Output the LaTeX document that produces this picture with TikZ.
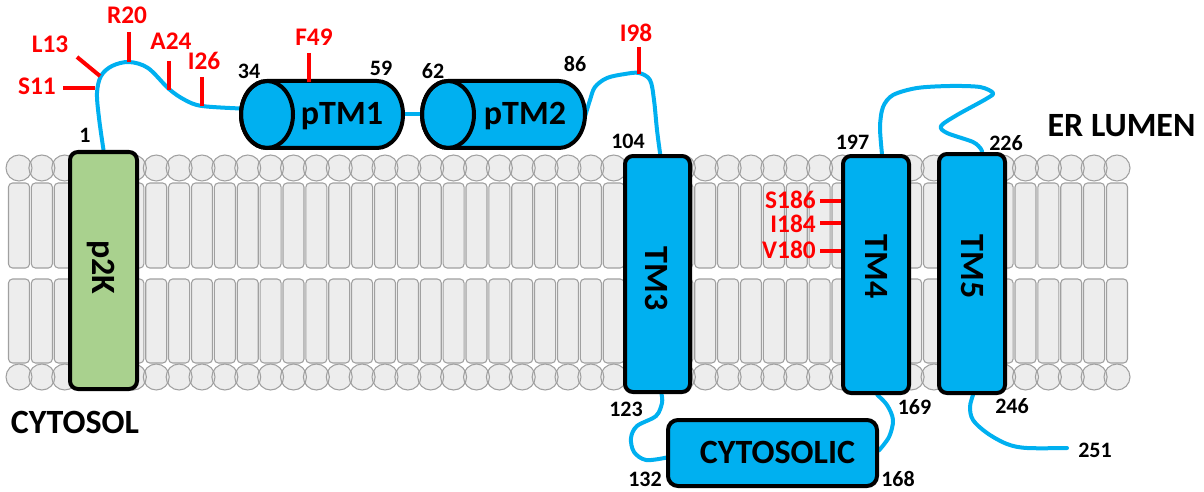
\documentclass[tikz,border=0pt]{standalone}
\usepackage{fontspec}
\setmainfont{Carlito}
\pgfdeclarelayer{bg}
\pgfdeclarelayer{mid}
\pgfsetlayers{bg,mid,main}
\definecolor{cblue}{HTML}{00B0F0}
\definecolor{cgreen}{HTML}{A9D18E}
\definecolor{lipfill}{HTML}{EDEDED}
\definecolor{lipline}{HTML}{A0A0A0}
\definecolor{cred}{HTML}{FF0000}
\begin{document}
\begin{tikzpicture}[x=0.75pt,y=-0.75pt,
  box/.style={draw=black, line width=3pt, rounded corners=6pt, inner sep=0pt},
  tmbox/.style={box, fill=cblue},
  hidden/.style={inner sep=0pt, outer sep=0pt},
  cyl/.style={draw=black, fill=cblue, line width=3pt, line join=round},
  big/.style={font=\bfseries\fontsize{25.5}{25.5}\selectfont, inner sep=0pt, text height=16.4pt, text depth=0pt},
  num/.style={font=\bfseries\fontsize{16.5}{16.5}\selectfont, inner sep=0pt, text height=10.4pt, text depth=0pt},
  mut/.style={font=\bfseries\fontsize{19}{19}\selectfont, text=cred, inner sep=0pt, text height=12pt, text depth=0pt},
  tick/.style={draw=cred, line width=3pt},
  chain/.style={draw=cblue, line width=3pt, line cap=round, line join=round},
  lipid/.style={draw=lipline, line width=0.8pt, fill=lipfill}
]
\useasboundingbox (0,0) rectangle (1204,492);

% ---------- membrane ----------
\begin{pgfonlayer}{bg}
\foreach \i in {0,...,48}{
  \pgfmathsetmacro\xx{19+\i*22.875}
  \draw[lipid, rounded corners=3pt] (\xx-10.5,183) rectangle (\xx+10.5,268);
  \draw[lipid, rounded corners=3pt] (\xx-10.5,279) rectangle (\xx+10.5,363);
  \fill[lipfill] (\xx,168) circle[radius=9.75pt];
  \fill[lipfill] (\xx,377) circle[radius=9.75pt];
}
\foreach \i in {0,...,48}{
  \pgfmathsetmacro\xx{19+\i*22.875}
  \draw[lipline, line width=0.8pt] (\xx,168) circle[radius=9.75pt];
  \draw[lipline, line width=0.8pt] (\xx,377) circle[radius=9.75pt];
}
\end{pgfonlayer}

% ---------- boxes ----------
\node[box, fill=cgreen, minimum width=50.25pt, minimum height=177.75pt] (p2k) at (103.5,270.5) {};
\node[tmbox, minimum width=48.75pt, minimum height=177pt] (tm3) at (657.5,274) {};
\node[tmbox, minimum width=49.5pt, minimum height=177.75pt] (tm4) at (876,274.5) {};
\node[tmbox, minimum width=49.5pt, minimum height=179.25pt] (tm5) at (972,273.5) {};
\node[tmbox, rounded corners=7.5pt, minimum width=156.75pt, minimum height=49.5pt] (cyto) at (772.5,453) {};

% cylinders
\node[hidden, minimum width=121.5pt, minimum height=50.25pt] (ptm1) at (322,114.5) {};
\node[hidden, minimum width=122.25pt, minimum height=50.25pt] (ptm2) at (503.5,114.5) {};
\foreach \c in {ptm1,ptm2}{
  \filldraw[cyl] ([xshift=19.5pt]\c.north west) -- ([xshift=-19.5pt]\c.north east)
    arc[start angle=90, end angle=-90, x radius=19.5pt, y radius=25.125pt]
    -- ([xshift=19.5pt]\c.south west)
    arc[start angle=270, end angle=90, x radius=19.5pt, y radius=25.125pt] -- cycle;
  \draw[draw=black, line width=3pt] ([xshift=19.5pt]\c.west) ellipse[x radius=19.5pt, y radius=25.125pt];
}

% ---------- box texts ----------
\node[big, rotate=-90] (tp2k) at (103.5,267.5) {p2K};
\node[big, rotate=-90] (ttm3) at (656,278.5) {TM3};
\node[big, rotate=-90] (ttm4) at (876,266.5) {TM4};
\node[big, rotate=-90] (ttm5) at (972,266.5) {TM5};
\node[big] (tcyto) at (777.5,452.5) {CYTOSOLIC};
\node[big] (tptm1) at (342,114) {pTM1};
\node[big] (tptm2) at (525,114) {pTM2};
\node[big] (ter) at (1121.5,126) {ER LUMEN};
\node[big] (tcytosol) at (75,422.5) {CYTOSOL};

% ---------- chain ----------
\coordinate (ptm1in) at ([yshift=4.5pt]ptm1.west);
\coordinate (ptm2out) at ([yshift=-1.5pt]ptm2.east);
\coordinate (tm3in) at ([xshift=2pt]tm3.north);
\coordinate (tm3out) at ([xshift=3pt]tm3.south);
\coordinate (cytoin) at ([yshift=-3.5pt]cyto.west);
\coordinate (cytoout) at ([yshift=2pt]cyto.east);
\coordinate (tm4in) at ([xshift=1pt]tm4.south);
\coordinate (tm4out) at ([xshift=4.5pt]tm4.north);
\coordinate (tm5in) at ([xshift=7.5pt]tm5.north);
\coordinate (tm5out) at ([xshift=0.75pt]tm5.south);
\coordinate (cterm) at (1067,448);

\begin{pgfonlayer}{mid}
\draw[chain] plot[smooth, tension=0.55] coordinates {(p2k.north) (99,118) (97,93) (101,76) (112,66) (129,62) (148,68) (169,89) (185,100) (202,106) (ptm1in)};
\draw[chain] (ptm1.east) -- (ptm2.west);
\draw[chain] plot[smooth, tension=0.55] coordinates {(ptm2out) (590,100) (595,87) (607,78) (625,74) (639,73) (650,80) (654,100) (657,130) (tm3in)};
\draw[chain] plot[smooth, tension=0.55] coordinates {(tm3out) (662,403) (656,416) (637,426) (631,438) (634,452) (646,460) (cytoin)};
\draw[chain] plot[smooth, tension=0.55] coordinates {(cytoout) (889,437) (893,420) (887,405) (tm4in)};
\draw[chain] plot[smooth, tension=0.5] coordinates {(tm4out) (880,127) (883,107) (893,95) (917,88) (950,86) (980,87) (993,93) (986,99) (957,115) (941,126) (947,133) (973,142) (981,149) (tm5in)};
\draw[chain] plot[smooth, tension=0.55] coordinates {(tm5out) (970,407) (973,420) (987,433) (1007,444) (1027,448) (cterm)};
\end{pgfonlayer}

% ---------- residue numbers ----------
\node[num] (n1) at (85,136) {1};
\node[num] (n34) at (249,71.5) {34};
\node[num] (n59) at (381,68.5) {59};
\node[num] (n62) at (433,72) {62};
\node[num] (n86) at (575,65) {86};
\node[num] (n104) at (628,141.5) {104};
\node[num] (n197) at (852.5,142.5) {197};
\node[num] (n226) at (1006,143.5) {226};
\node[num] (n123) at (626,409.5) {123};
\node[num] (n132) at (645,480) {132};
\node[num] (n168) at (898,480) {168};
\node[num] (n169) at (914.5,407.5) {169};
\node[num] (n246) at (1012,407) {246};
\node[num] (n251) at (1095,450.5) {251};

% ---------- mutations ----------
\node[mut] (s11) at (37,86.5) {S11};
\node[mut] (l13) at (50,45) {L13};
\node[mut] (r20) at (127,16) {R20};
\node[mut] (a24) at (171,42) {A24};
\node[mut] (i26) at (204,61.5) {I26};
\node[mut] (f49) at (314,37.5) {F49};
\node[mut] (i98) at (636,33.5) {I98};
\node[mut, anchor=east] (s186) at (816,200) {S186};
\node[mut, anchor=east] (i184) at (816,224.5) {I184};
\node[mut, anchor=east] (v180) at (816,250.5) {V180};

\draw[tick] (63,88) -- (95,88);
\draw[tick] (77,57) -- (100,76);
\draw[tick] (129,32) -- (129,62);
\draw[tick] (169,61) -- (169,90);
\draw[tick] (202,77) -- (202,106);
\draw[tick] (309,53) -- (309,82);
\draw[tick] (639,47) -- (639,74);
\draw[tick] (820,201) -- (tm4.west |- 0,201);
\draw[tick] (820,223) -- (tm4.west |- 0,223);
\draw[tick] (820,251) -- (tm4.west |- 0,251);
\end{tikzpicture}
\end{document}
